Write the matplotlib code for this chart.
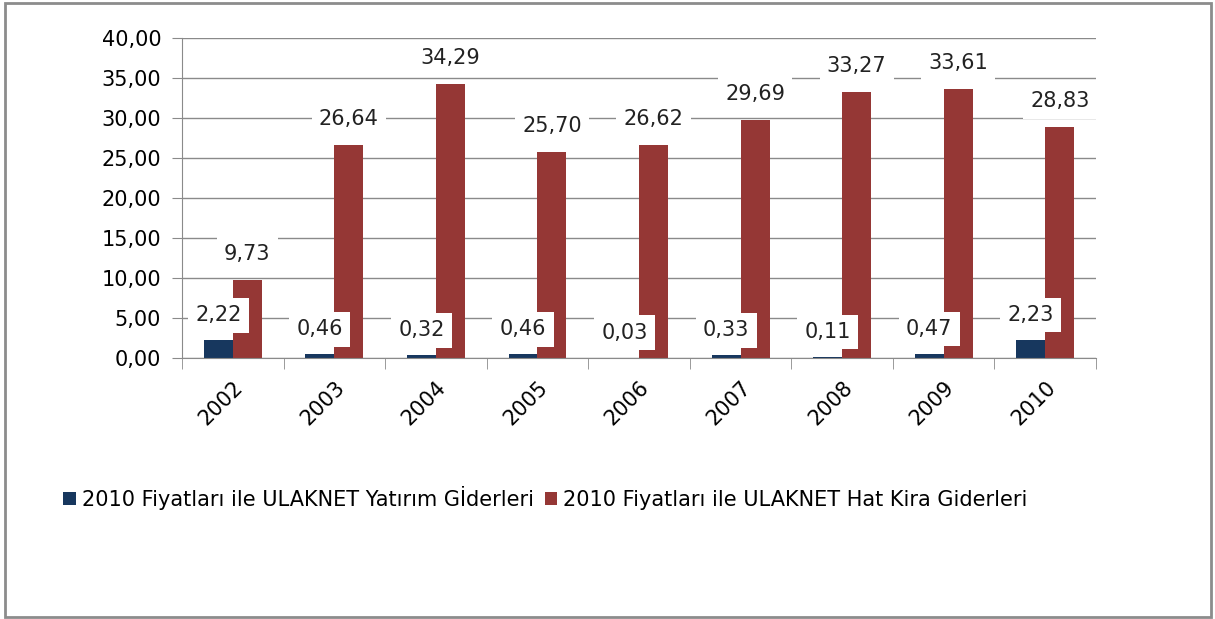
import matplotlib.pyplot as plt
import numpy as np
from matplotlib.patches import Rectangle

years = ['2002', '2003', '2004', '2005', '2006', '2007', '2008', '2009', '2010']
yatirim = [2.22, 0.46, 0.32, 0.46, 0.03, 0.33, 0.11, 0.47, 2.23]
hat_kira = [9.73, 26.64, 34.29, 25.70, 26.62, 29.69, 33.27, 33.61, 28.83]
series_names = ['2010 Fiyatları ile ULAKNET Yatırım Gİderleri',
                '2010 Fiyatları ile ULAKNET Hat Kira Giderleri']
colors = ['#17375E', '#953735']

plt.rcParams['font.family'] = ['DejaVu Sans']

fig = plt.figure(figsize=(12.15, 6.19), dpi=100)
fig.patches.append(Rectangle((0.004, 0.003), 0.993, 0.992, transform=fig.transFigure,
                             fill=False, edgecolor='#8c8c8c', linewidth=2))

ax = fig.add_axes([0.1498, 0.4217, 0.7523, 0.5169])
x = np.arange(len(years))
w = 0.285

b1 = ax.bar(x - w / 2, yatirim, w, color=colors[0], label=series_names[0], zorder=2)
b2 = ax.bar(x + w / 2, hat_kira, w, color=colors[1], label=series_names[1], zorder=2)

box = dict(boxstyle='square,pad=0.35', facecolor='white', edgecolor='none')
for xi, v in zip(x, yatirim):
    ax.annotate(f'{v:.2f}'.replace('.', ','), (xi - w / 2, v), xytext=(0, 25),
                textcoords='offset pixels', ha='center', va='center', fontsize=15,
                color='#222222', bbox=box, zorder=4)
for xi, v in zip(x, hat_kira):
    ax.annotate(f'{v:.2f}'.replace('.', ','), (xi + w / 2, v), xytext=(0, 26),
                textcoords='offset pixels', ha='center', va='center', fontsize=15,
                color='#222222', bbox=box, zorder=4)

ax.set_xlim(-0.5, len(years) - 0.5)
ax.set_ylim(0, 40)
ax.set_yticks(np.arange(0, 41, 5))
ax.set_yticklabels([f'{t:.2f}'.replace('.', ',') for t in np.arange(0, 41, 5)])
ax.yaxis.grid(True, color='#8a8a8a', linewidth=1, zorder=0)
ax.set_axisbelow(True)

ax.set_xticks(x)
ax.set_xticklabels(years, rotation=45, ha='right', rotation_mode='anchor')
ax.set_xticks(np.arange(-0.5, len(years)), minor=True)
ax.tick_params(axis='x', which='major', length=0, pad=14, labelsize=15)
ax.tick_params(axis='x', which='minor', length=8, color='#8a8a8a', direction='out')
ax.tick_params(axis='y', length=7, color='#8a8a8a', labelsize=15, pad=8)

for s in ['top', 'right']:
    ax.spines[s].set_visible(False)
ax.spines['left'].set_color('#8a8a8a')
ax.spines['bottom'].set_color('#8a8a8a')

fig.legend(handles=[b1, b2], loc='center', bbox_to_anchor=(0.449, 0.196), ncol=2,
           frameon=False, fontsize=15, handlelength=0.6, handleheight=0.6,
           handletextpad=0.3, columnspacing=0.5)

plt.savefig('out.png', dpi=100)
